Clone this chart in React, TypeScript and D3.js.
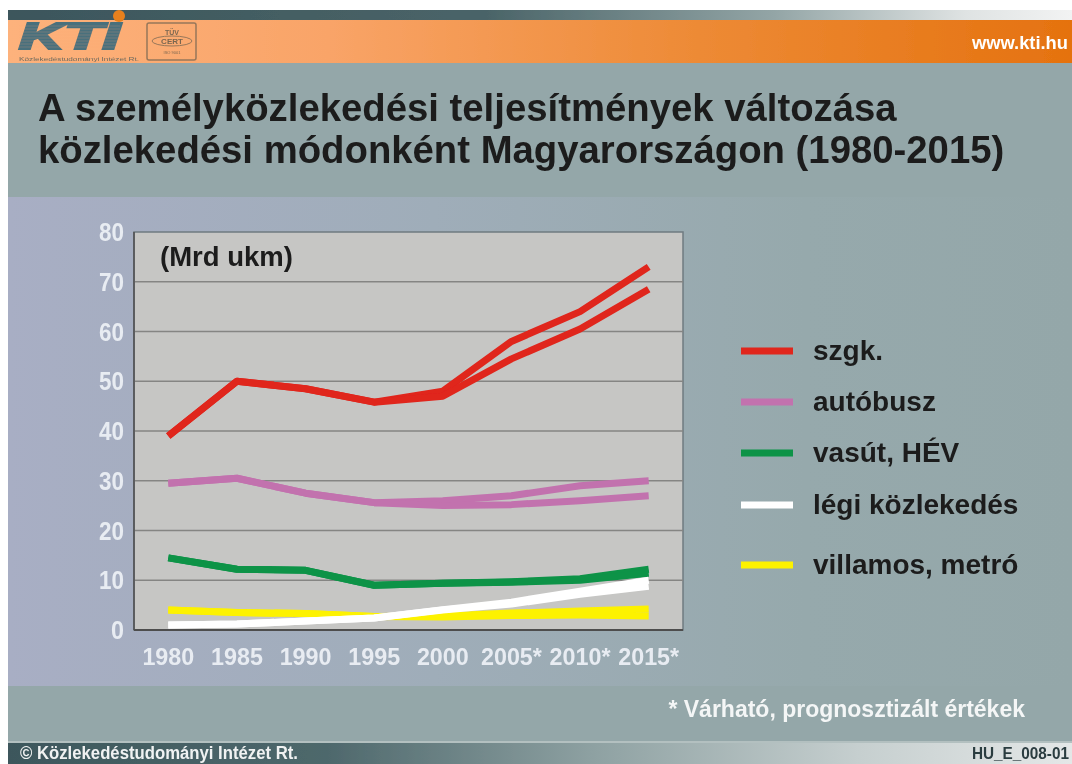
import React, { useMemo } from "react";
import * as d3 from "d3";

const categories = ["1980", "1985", "1990", "1995", "2000", "2005*", "2010*", "2015*"];
const yTicks = [0, 10, 20, 30, 40, 50, 60, 70, 80];

const carHigh = [39, 50, 48.5, 45.8, 48, 58, 64, 73];
const carLow = [39, 50, 48.5, 45.8, 47, 54.5, 60.5, 68.5];
const busHigh = [29.5, 30.5, 27.5, 25.6, 26, 27, 29, 30];
const busLow = [29.5, 30.5, 27.5, 25.6, 25, 25.2, 26, 27];
const railHigh = [14.5, 12.2, 12, 9, 9.4, 9.7, 10.3, 12.2];
const railLow = [14.5, 12.2, 12, 9, 9.4, 9.6, 10, 11.4];
const tramHigh = [4, 3.5, 3.3, 2.7, 2.8, 3.4, 3.8, 4.2];
const tramLow = [4, 3.5, 3.3, 2.7, 2.6, 2.9, 3, 2.8];
const airHigh = [1, 1.2, 1.8, 2.4, 4.1, 5.6, 7.8, 10.0];
const airLow = [1, 1.2, 1.8, 2.4, 4, 5.2, 7.2, 8.8];

const legendLabels = ["szgk.", "autóbusz", "vasút, HÉV", "légi közlekedés", "villamos, metró"];
const legendColors = ["#e0251c", "#c272ae", "#0b9347", "#ffffff", "#fdf200"];
const legendY = [351, 402, 453, 505, 565];
const logoStripes = [26, 29, 32, 35, 38, 41, 44, 47];

const FONT = "'Liberation Sans', Arial, sans-serif";

export default function App() {
  const x = useMemo(() => d3.scaleBand<string>().domain(categories).range([134, 683]), []);
  const y = useMemo(() => d3.scaleLinear().domain([0, 80]).range([630, 232]), []);
  const cx = (c: string) => (x(c) as number) + x.bandwidth() / 2;
  const line = d3
    .line<number>()
    .x((_, i) => cx(categories[i]))
    .y((d) => y(d));

  const series: [number[], string][] = [
    [carHigh, legendColors[0]],
    [carLow, legendColors[0]],
    [busHigh, legendColors[1]],
    [busLow, legendColors[1]],
    [railHigh, legendColors[2]],
    [railLow, legendColors[2]],
    [tramHigh, legendColors[4]],
    [tramLow, legendColors[4]],
    [airHigh, legendColors[3]],
    [airLow, legendColors[3]],
  ];

  return (
    <svg
      width={1072}
      height={764}
      style={{ position: "absolute", left: 0, top: 0, display: "block", background: "#fff" }}
      fontFamily={FONT}
    >
      <defs>
        <linearGradient id="strip" x1="0" x2="1" y1="0" y2="0">
          <stop offset="0" stopColor="#3c565c" />
          <stop offset="0.45" stopColor="#4a6468" />
          <stop offset="0.72" stopColor="#93a5a6" />
          <stop offset="0.9" stopColor="#dfe3e3" />
          <stop offset="1" stopColor="#f2f3f3" />
        </linearGradient>
        <linearGradient id="orange" x1="0" x2="1" y1="0" y2="0">
          <stop offset="0" stopColor="#fdb27c" />
          <stop offset="0.3" stopColor="#f9a468" />
          <stop offset="0.65" stopColor="#ed8a35" />
          <stop offset="1" stopColor="#e5720f" />
        </linearGradient>
        <linearGradient id="panel" x1="0" x2="1" y1="0" y2="0">
          <stop offset="0" stopColor="#a8aec4" />
          <stop offset="0.4" stopColor="#9fadb9" />
          <stop offset="0.75" stopColor="#96a9ac" />
          <stop offset="1" stopColor="#94a7a9" />
        </linearGradient>
        <linearGradient id="foot" x1="0" x2="1" y1="0" y2="0">
          <stop offset="0" stopColor="#3d575c" />
          <stop offset="0.3" stopColor="#4e686c" />
          <stop offset="0.55" stopColor="#8ea1a2" />
          <stop offset="0.8" stopColor="#c6cfcf" />
          <stop offset="1" stopColor="#e4e7e7" />
        </linearGradient>
        <filter id="soft" x="0" y="0" width="100%" height="100%">
          <feGaussianBlur stdDeviation="0.45" />
        </filter>
      </defs>

      <g filter="url(#soft)">
        {/* page frame */}
        <rect x={8} y={10} width={1064} height={754} fill="#94a7a9" />
        <rect x={8} y={10} width={1064} height={10} fill="url(#strip)" />
        <rect x={8} y={20} width={1064} height={43} fill="url(#orange)" />
        <rect x={8} y={197} width={1064} height={489} fill="url(#panel)" />
        <rect x={8} y={741} width={1064} height={2} fill="#b3c0c0" />
        <rect x={8} y={743} width={1064} height={21} fill="url(#foot)" />

        {/* header logo */}
        <circle cx={119} cy={16} r={6} fill="#e8801f" />
        <text x={19} y={49} fontSize={36} fontWeight="bold" fontStyle="italic" fill="#4a6f7c" stroke="#4a6f7c" strokeWidth={2.2} textLength={101} lengthAdjust="spacingAndGlyphs">
          KTI
        </text>
        {logoStripes.map((s) => (
          <line key={s} x1={19} x2={120} y1={s} y2={s} stroke="#f7a874" strokeWidth={0.6} opacity={0.35} />
        ))}
        <text x={19} y={61} fontSize={5.5} fill="#6d6a5e" textLength={120} lengthAdjust="spacingAndGlyphs">
          Közlekedéstudományi Intézet Rt.
        </text>
        <rect x={147} y={23} width={49} height={37} rx={2} fill="none" stroke="#97775a" strokeWidth={1.5} />
        <ellipse cx={172} cy={41} rx={20} ry={5} fill="none" stroke="#97775a" strokeWidth={1} />
        <text x={172} y={35} fontSize={7} fontWeight="bold" fill="#7a6650" textAnchor="middle">TÜV</text>
        <text x={172} y={44} fontSize={8} fontWeight="bold" fill="#7a6650" textAnchor="middle">CERT</text>
        <text x={172} y={54} fontSize={4} fill="#7a6650" textAnchor="middle">ISO 9001</text>
        <text x={1068} y={49} fontSize={18} fontWeight="bold" fill="#fff" textAnchor="end" textLength={96} lengthAdjust="spacingAndGlyphs">www.kti.hu</text>

        {/* title */}
        <text x={38} y={121} fontSize={38.3} fontWeight="bold" fill="#1c1c1c">
          A személyközlekedési teljesítmények változása
        </text>
        <text x={38} y={163} fontSize={38.3} fontWeight="bold" fill="#1c1c1c">
          közlekedési módonként Magyarországon (1980-2015)
        </text>

        {/* plot */}
        <rect x={134} y={232} width={549} height={398} fill="#c6c6c4" stroke="#6f7b80" strokeWidth={1.5} />
        {yTicks.filter((t) => t > 0 && t < 80).map((t) => (
          <line key={t} x1={134} x2={683} y1={y(t)} y2={y(t)} stroke="#858583" strokeWidth={1.5} />
        ))}
        <line x1={134} x2={683} y1={630} y2={630} stroke="#4e4e4e" strokeWidth={2} />
        <line x1={134} x2={134} y1={232} y2={630} stroke="#4e4e4e" strokeWidth={1.5} />

        {series.map(([values, color], i) => (
          <path
            key={i}
            d={line(values) as string}
            fill="none"
            stroke={color}
            strokeWidth={7}
            strokeLinejoin="round"
          />
        ))}

        {yTicks.map((t) => (
          <text key={t} x={124} y={y(t) + 9} fontSize={25} fontWeight="bold" fill="#e8ecf2" textAnchor="end" textLength={t === 0 ? 13 : 25} lengthAdjust="spacingAndGlyphs">
            {t}
          </text>
        ))}
        {categories.map((c) => (
          <text key={c} x={cx(c)} y={665} fontSize={23.3} fontWeight="bold" fill="#e8ecf2" textAnchor="middle">
            {c}
          </text>
        ))}
        <text x={160} y={266} fontSize={27.5} fontWeight="bold" fill="#1c1c1c">(Mrd ukm)</text>

        {/* legend */}
        {legendLabels.map((l, i) => (
          <g key={l}>
            <line x1={741} x2={793} y1={legendY[i]} y2={legendY[i]} stroke={legendColors[i]} strokeWidth={7} />
            <text x={813} y={legendY[i] + 9} fontSize={28} fontWeight="bold" fill="#1c1c1c">{l}</text>
          </g>
        ))}

        <text x={1025} y={717} fontSize={23} fontWeight="bold" fill="#f4f6f6" textAnchor="end">
          * Várható, prognosztizált értékek
        </text>
        <text x={20} y={759} fontSize={18} fontWeight="bold" fill="#f0f2f2" textLength={278} lengthAdjust="spacingAndGlyphs">
          © Közlekedéstudományi Intézet Rt.
        </text>
        <text x={1069} y={759} fontSize={16} fontWeight="bold" fill="#2c3c40" textAnchor="end" textLength={97} lengthAdjust="spacingAndGlyphs">
          HU_E_008-01
        </text>
      </g>
    </svg>
  );
}
